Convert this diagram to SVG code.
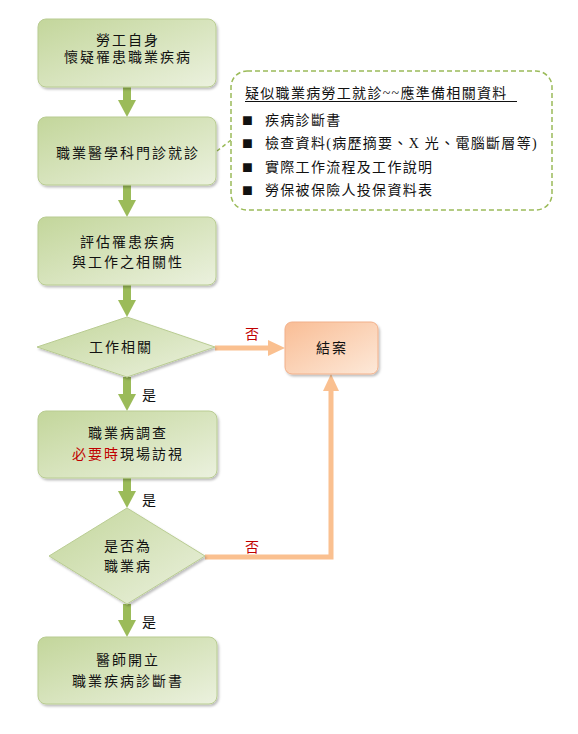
<svg xmlns="http://www.w3.org/2000/svg" width="578" height="734" viewBox="0 0 578 734">
<style>
text{font-family:"Liberation Serif","Noto Sans CJK TC",serif;font-size:14px;fill:#111}
.c{text-anchor:middle;letter-spacing:2px}
.red{fill:#c00000}
.g{fill:url(#gg);stroke:#b9cc92;stroke-width:1;filter:url(#sh)}
.o{fill:url(#og);stroke:#f2b08a;stroke-width:1;filter:url(#sh)}
.ga{stroke:#9bbb59;stroke-width:8;fill:none;marker-end:url(#gh)}
.oa{stroke:#fac090;stroke-width:5;fill:none}
.dash{fill:#fff;stroke:#9bbb59;stroke-width:1.5;stroke-dasharray:5 3}
.bl{letter-spacing:1.3px}
.bu{font-size:18px;letter-spacing:0}
</style>
<defs>
<linearGradient id="gg" x1="0" y1="0" x2="1" y2="1">
<stop offset="0" stop-color="#c3d69b"/>
<stop offset="1" stop-color="#ebf1de"/>
</linearGradient>
<linearGradient id="og" x1="0" y1="0" x2="1" y2="1">
<stop offset="0" stop-color="#f9bd95"/>
<stop offset="1" stop-color="#fde9d9"/>
</linearGradient>
<filter id="sh" x="-10%" y="-10%" width="130%" height="130%">
<feDropShadow dx="1.5" dy="2" stdDeviation="1.2" flood-color="#000" flood-opacity="0.25"/>
</filter>
<marker id="gh" viewBox="0 -9 17 18" refX="0" refY="0" markerWidth="17" markerHeight="18" markerUnits="userSpaceOnUse" orient="auto">
<path d="M0,-9 L17,0 L0,9 z" fill="#9bbb59"/>
</marker>
<marker id="oh" viewBox="0 -8 17 16" refX="0" refY="0" markerWidth="17" markerHeight="16" markerUnits="userSpaceOnUse" orient="auto">
<path d="M0,-8 L17,0 L0,8 z" fill="#fac090"/>
</marker>
</defs>

<g id="connectors">
<line class="ga" x1="127" y1="87" x2="127" y2="100"/>
<line class="ga" x1="127" y1="185" x2="127" y2="200"/>
<line class="ga" x1="127" y1="285" x2="127" y2="300"/>
<line class="ga" x1="127" y1="377" x2="127" y2="394"/>
<line class="ga" x1="127" y1="478" x2="127" y2="491"/>
<line class="ga" x1="127" y1="604" x2="127" y2="620"/>
<line class="oa" x1="215" y1="348" x2="268" y2="348" marker-end="url(#oh)"/>
<path class="oa" d="M205,557 L331,557 L331,391" marker-end="url(#oh)"/>
<line x1="231" y1="140" x2="217" y2="151" stroke="#9bbb59" stroke-width="1.5" stroke-dasharray="4 3"/>
<text x="245" y="339" class="red">否</text>
<text x="245" y="552" class="red">否</text>
<text x="142" y="400">是</text>
<text x="142" y="505">是</text>
<text x="142" y="627">是</text>
</g>

<g id="n1">
<rect class="g" x="38" y="19" width="178" height="68" rx="8"/>
<text class="c" x="128" y="45">勞工自身</text>
<text class="c" x="128" y="62">懷疑罹患職業疾病</text>
</g>
<g id="n2">
<rect class="g" x="38" y="117" width="178" height="68" rx="8"/>
<text class="c" x="128" y="158">職業醫學科門診就診</text>
</g>
<g id="note">
<rect class="dash" x="231" y="71" width="321" height="139" rx="16"/>
<text class="bl" x="245" y="98">疑似職業病勞工就診~~應準備相關資料</text>
<line x1="245" y1="101.5" x2="517" y2="101.5" stroke="#111" stroke-width="1"/>
<text class="bl" x="242" y="126"><tspan class="bu">■</tspan><tspan x="265" y="125">疾病診斷書</tspan></text>
<text class="bl" x="242" y="149"><tspan class="bu">■</tspan><tspan x="265" y="148">檢查資料(病歷摘要、X 光、電腦斷層等)</tspan></text>
<text class="bl" x="242" y="173"><tspan class="bu">■</tspan><tspan x="265" y="172">實際工作流程及工作說明</tspan></text>
<text class="bl" x="242" y="196"><tspan class="bu">■</tspan><tspan x="265" y="195">勞保被保險人投保資料表</tspan></text>
</g>
<g id="n3">
<rect class="g" x="38" y="217" width="178" height="68" rx="8"/>
<text class="c" x="128" y="247">評估罹患疾病</text>
<text class="c" x="128" y="267">與工作之相關性</text>
</g>
<g id="d1">
<polygon class="g" points="127,317 215,347 127,377 37,347"/>
<text class="c" x="121" y="352">工作相關</text>
</g>
<g id="end">
<rect class="o" x="285" y="322" width="93" height="52" rx="7"/>
<text class="c" x="332" y="353">結案</text>
</g>
<g id="n4">
<rect class="g" x="38" y="411" width="179" height="67" rx="8"/>
<text class="c" x="128" y="438">職業病調查</text>
<text class="c" x="128" y="459"><tspan class="red">必要時</tspan>現場訪視</text>
</g>
<g id="d2">
<polygon class="g" points="127,508 205,556 127,604 49,556"/>
<text class="c" x="128" y="551">是否為</text>
<text class="c" x="128" y="571">職業病</text>
</g>
<g id="n5">
<rect class="g" x="38" y="637" width="179" height="67" rx="8"/>
<text class="c" x="128" y="665">醫師開立</text>
<text class="c" x="128" y="686">職業疾病診斷書</text>
</g>
</svg>
